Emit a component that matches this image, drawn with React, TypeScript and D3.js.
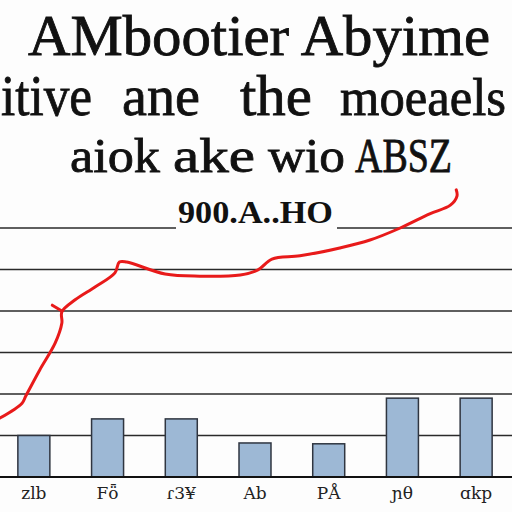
import * as d3 from 'd3';

const W = 512;
const H = 512;

// bar chart data
const categories = ['zlb', 'Fȫ', 'ɾ3¥', 'Ab', 'PÅ', 'ɲθ', 'ɑkp'];
const barValues = [100, 140, 140, 82, 80, 190, 190];
const gridTicks = [100, 200, 300, 400, 500, 600];

// red line, x in category-index units, y in data units
const lineX = [-0.46, -0.16, -0.11, 0.08, 0.29, 0.38, 0.38, 0.56, 0.83, 1.1, 1.16, 1.26, 1.78, 2.25, 2.8, 3.04, 3.23, 3.61, 4.15, 4.56, 4.97, 5.37, 5.65, 5.74, 5.73];
const lineY = [142, 178, 195, 258, 323, 371, 398, 427, 458, 492, 518, 518, 489, 484, 487, 499, 525, 533, 552, 571, 600, 634, 655, 677, 692];
const tickX = [0.25, 0.38];
const tickY = [414, 400];

const titleLines = [
  { words: ['AMbootier Abyime'], xs: [[28, 490]], sizes: [56], y: 55 },
  { words: ['itive', 'ane', 'the', 'moeaels'], xs: [[1, 92], [122, 200], [240, 312], [340, 506]], sizes: [58, 58, 58, 52], y: 115 },
  { words: ['aiok', 'ake', 'wio', 'ABSZ'], xs: [[70, 160], [173, 255], [268, 345], [355, 452]], sizes: [48, 48, 48, 48], y: 172 },
];
const subtitle = '900.A..HO';

export default function App() {
  const x = d3.scaleBand<string>().domain(categories).range([-3, 513]).paddingInner(0.566).paddingOuter(0.283);
  const xl = d3.scaleLinear().domain([-0.5, 6.5]).range([-3, 513]);
  const y = d3.scaleLinear().domain([0, 600]).range([477, 228]);

  const line = d3
    .line<number>()
    .x((_, i) => xl(lineX[i]))
    .y((d) => y(d))
    .curve(d3.curveCatmullRom);
  const tick = d3
    .line<number>()
    .x((_, i) => xl(tickX[i]))
    .y((d) => y(d));

  return (
    <svg width={W} height={H} style={{ position: 'absolute', left: 0, top: 0, background: '#fdfdfd' }}>
      <rect width={W} height={H} fill="#fdfdfd" />

      {/* title, three lines of serif text */}
      {titleLines.map((ln, li) =>
        ln.words.map((w, wi) => (
          <text
            key={`${li}-${wi}`}
            x={ln.xs[wi][0]}
            y={ln.y}
            fontFamily="Liberation Serif, serif"
            fontSize={ln.sizes[wi]}
            fill="#111"
            stroke="#111"
            strokeWidth={0.8}
            textLength={ln.xs[wi][1] - ln.xs[wi][0]}
            lengthAdjust="spacingAndGlyphs"
          >
            {w}
          </text>
        ))
      )}

      {/* horizontal grid */}
      {gridTicks.map((t) => (
        <line key={t} x1={0} x2={W} y1={y(t)} y2={y(t)} stroke="#2a2a2a" strokeWidth={1.4} />
      ))}

      {/* subtitle sits on the top grid line */}
      <rect x={176} y={198} width={161} height={32} fill="#fdfdfd" />
      <text
        x={178}
        y={223}
        fontFamily="Liberation Serif, serif"
        fontWeight="bold"
        fontSize={31}
        fill="#111"
        textLength={155}
        lengthAdjust="spacingAndGlyphs"
      >
        {subtitle}
      </text>

      {/* bars */}
      {categories.map((c, i) => (
        <rect
          key={c}
          x={x(c)}
          y={y(barValues[i])}
          width={x.bandwidth()}
          height={y(0) - y(barValues[i])}
          fill="#9db8d5"
          stroke="#2f3540"
          strokeWidth={1.5}
        />
      ))}

      {/* baseline */}
      <line x1={0} x2={W} y1={y(0)} y2={y(0)} stroke="#111" strokeWidth={2.2} />

      {/* category labels */}
      {categories.map((c) => (
        <text
          key={c}
          x={(x(c) ?? 0) + x.bandwidth() / 2}
          y={499}
          textAnchor="middle"
          fontFamily="DejaVu Serif, serif"
          fontSize={17}
          fill="#222"
        >
          {c}
        </text>
      ))}

      {/* red line */}
      <path d={line(lineY) ?? ''} fill="none" stroke="#e81a1a" strokeWidth={3} strokeLinecap="round" strokeLinejoin="round" />
      <path d={tick(tickY) ?? ''} fill="none" stroke="#e81a1a" strokeWidth={3} strokeLinecap="round" />
    </svg>
  );
}
